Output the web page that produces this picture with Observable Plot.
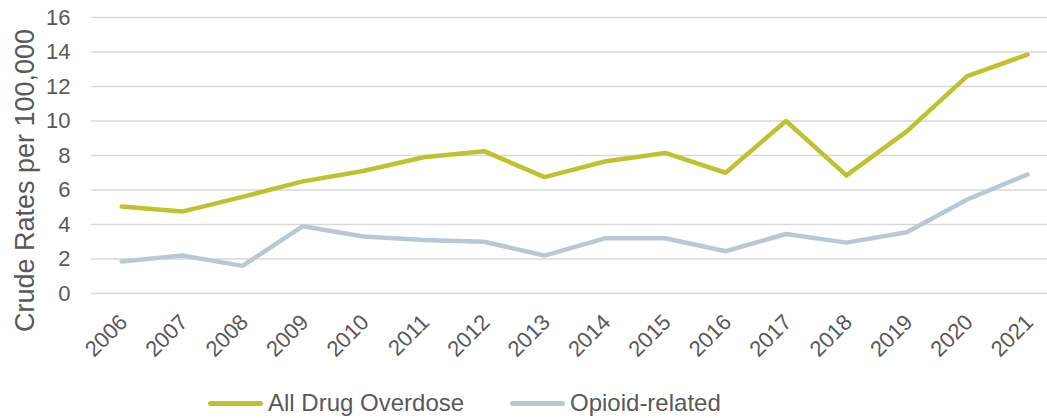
<!DOCTYPE html>
<html>
<head>
<meta charset="utf-8">
<script src="https://cdn.jsdelivr.net/npm/d3@7"></script>
<script src="https://cdn.jsdelivr.net/npm/@observablehq/plot@0.6"></script>
<style>
  html, body { margin: 0; padding: 0; background: #fff; }
  body { font-family: "Liberation Sans", Arial, sans-serif; width: 1047px; height: 418px; overflow: hidden; position: relative; }
  #chart svg { display: block; }
  .legend { position: absolute; left: 0; top: 375px; width: 1047px; height: 43px; color: #595959; font-size: 24px; }
  .item { position: absolute; top: 0; height: 43px; display: flex; align-items: center; padding-top: 13px; box-sizing: border-box; }
  .sw { width: 55px; height: 5px; border-radius: 3px; margin-right: 5px; }
</style>
</head>
<body>
<div id="chart"></div>
<div class="legend" id="legend"></div>
<script>
const years = [2006, 2007, 2008, 2009, 2010, 2011, 2012, 2013, 2014, 2015, 2016, 2017, 2018, 2019, 2020, 2021];
const allDrug = [5.05, 4.75, 5.6, 6.5, 7.1, 7.9, 8.25, 6.75, 7.65, 8.15, 7.0, 10.0, 6.85, 9.4, 12.6, 13.85];
const opioid = [1.85, 2.2, 1.6, 3.9, 3.3, 3.1, 3.0, 2.2, 3.2, 3.2, 2.45, 3.45, 2.95, 3.55, 5.45, 6.9];
const seriesNames = ["All Drug Overdose", "Opioid-related"];
const seriesColors = ["#BFC22F", "#BAC8D4"];
const yTicks = [0, 2, 4, 6, 8, 10, 12, 14, 16];
const yLabel = "Crude Rates per 100,000";

const rows = [];
years.forEach((yr, i) => {
  rows.push({year: yr, value: allDrug[i], series: seriesNames[0]});
  rows.push({year: yr, value: opioid[i], series: seriesNames[1]});
});

const chart = Plot.plot({
  width: 1047,
  height: 375,
  marginTop: 17,
  marginBottom: 82,
  marginLeft: 91,
  marginRight: 0,
  style: {fontFamily: "'Liberation Sans', Arial, sans-serif", color: "#595959", background: "#fff"},
  x: {type: "linear", domain: [2005.5, 2021.33], axis: null},
  y: {domain: [0, 16], axis: null},
  color: {domain: seriesNames, range: seriesColors},
  marks: [
    Plot.ruleY(yTicks, {stroke: "#D9D9D9", strokeWidth: 1.5}),
    Plot.axisY({ticks: yTicks, tickSize: 0, tickPadding: 21, label: null, fontSize: 22, tickFormat: d => String(d), fill: "#595959"}),
    Plot.text(years, {x: d => d, frameAnchor: "bottom", text: d => String(d), rotate: -45, textAnchor: "end", lineAnchor: "bottom", dx: 7, dy: 30, fontSize: 22, fill: "#595959"}),
    Plot.text([yLabel], {frameAnchor: "left", text: d => d, rotate: -90, textAnchor: "middle", lineAnchor: "bottom", dx: -58, dy: 25, fontSize: 27, fill: "#595959"}),
    Plot.line(rows, {x: "year", y: "value", z: "series", stroke: "series", strokeWidth: 4.5, strokeLinecap: "round", strokeLinejoin: "round"})
  ]
});
document.getElementById("chart").appendChild(chart);

const legend = document.getElementById("legend");
const lefts = [208, 510];
seriesNames.forEach((name, i) => {
  const it = document.createElement("div");
  it.className = "item";
  it.style.left = lefts[i] + "px";
  const sw = document.createElement("span");
  sw.className = "sw";
  sw.style.background = seriesColors[i];
  const tx = document.createElement("span");
  tx.textContent = name;
  it.appendChild(sw);
  it.appendChild(tx);
  legend.appendChild(it);
});
</script>
</body>
</html>
